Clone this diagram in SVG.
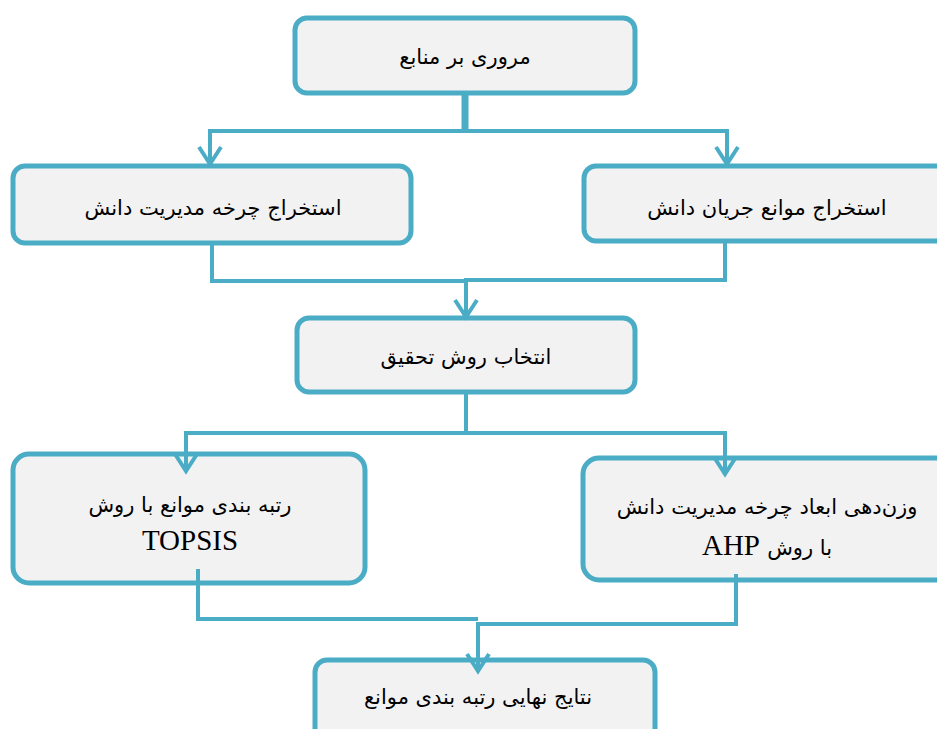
<svg xmlns="http://www.w3.org/2000/svg" width="937" height="729" viewBox="0 0 937 729">
<style>
.box{fill:#f2f2f2;stroke:#4bacc6;stroke-width:5}
.fa{font-family:"DejaVu Sans","Noto Sans",sans-serif;font-size:21px;fill:#000;text-anchor:middle;direction:rtl}
.en{font-family:"Liberation Serif",serif;font-size:29px;fill:#000;text-anchor:middle}
.c{fill:none;stroke:#4bacc6;stroke-width:4}
</style>
<defs>
<marker id="arr" viewBox="0 0 24 26" refX="19" refY="13" markerWidth="24" markerHeight="26" markerUnits="userSpaceOnUse" orient="auto">
<path d="M3,2 L20,13 L3,24" fill="none" stroke="#4bacc6" stroke-width="4"/>
</marker>
</defs>
<rect width="937" height="729" fill="#fff"/>
<g id="n1"><rect class="box" x="295" y="18" width="340" height="75" rx="12"/><text class="fa" x="465" y="64">مروری بر منابع</text></g>
<g id="n2"><rect class="box" x="13" y="166" width="398" height="77" rx="12"/><text class="fa" x="213" y="215">استخراج چرخه مدیریت دانش</text></g>
<g id="n3"><rect class="box" x="584" y="166" width="370" height="75" rx="12"/><text class="fa" x="767" y="215">استخراج موانع جریان دانش</text></g>
<g id="n4"><rect class="box" x="297" y="318" width="338" height="74" rx="12"/><text class="fa" x="466" y="364">انتخاب روش تحقیق</text></g>
<g id="n5"><rect class="box" x="13" y="454" width="352" height="129" rx="16"/><text class="fa" x="190" y="512">رتبه بندی موانع با روش</text><text class="en" x="190" y="550">TOPSIS</text></g>
<g id="n6"><rect class="box" x="583" y="458" width="370" height="122" rx="16"/><text class="fa" x="767" y="514">وزن‌دهی ابعاد چرخه مدیریت دانش</text><text class="en" x="767" y="555" direction="rtl"><tspan style="font-family:'DejaVu Sans',sans-serif;font-size:21px">با روش</tspan> AHP</text></g>
<g id="n7"><rect class="box" x="315" y="660" width="340" height="82" rx="12"/><text class="fa" x="478" y="704">نتایج نهایی رتبه بندی موانع</text></g>
<g id="connectors">
<path d="M465,94 V131" stroke="#4bacc6" stroke-width="7" fill="none"/>
<path class="c" d="M465,131 H210 V163" marker-end="url(#arr)"/>
<path class="c" d="M465,131 H727 V163" marker-end="url(#arr)"/>
<path class="c" d="M212,243 V281 H466"/>
<path class="c" d="M725,241 V280 H466 V316" marker-end="url(#arr)"/>
<path class="c" d="M466,392 V433 H186 V470" marker-end="url(#arr)"/>
<path class="c" d="M466,433 H725 V473" marker-end="url(#arr)"/>
<path class="c" d="M198,569 V619 H478"/>
<path class="c" d="M736,574 V624 H478 V670" marker-end="url(#arr)"/>
</g>
</svg>
